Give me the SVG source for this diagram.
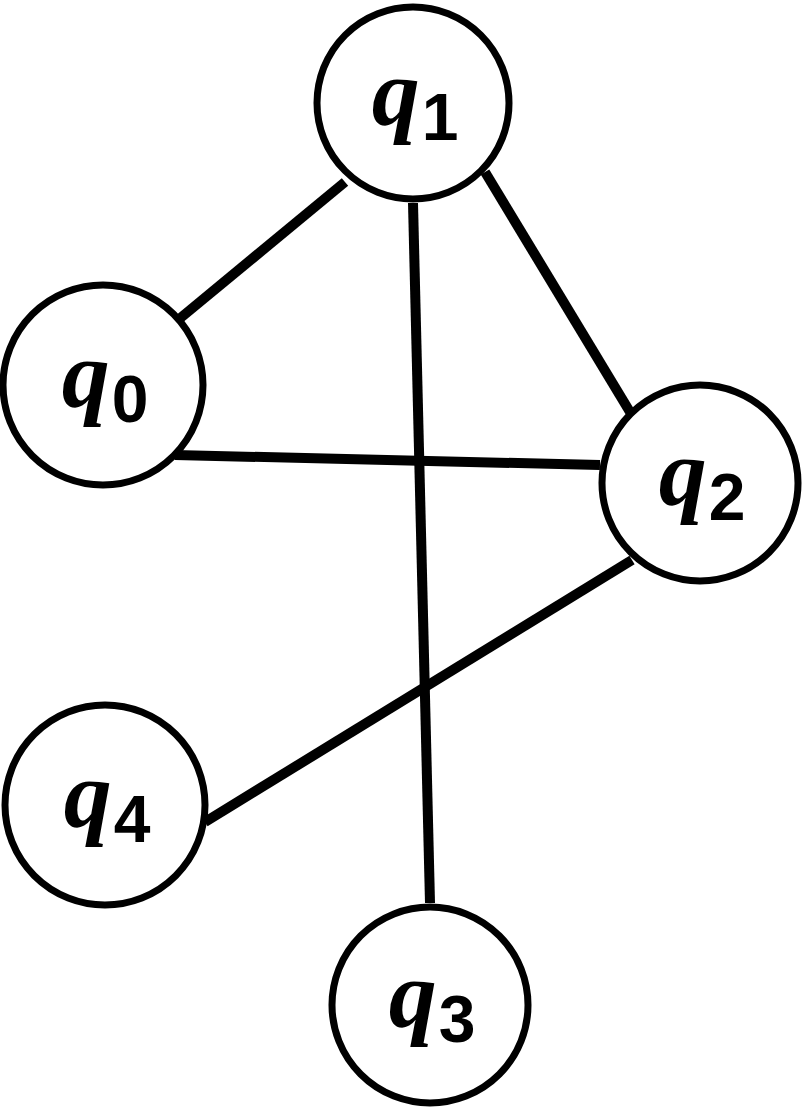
<svg xmlns="http://www.w3.org/2000/svg" width="806" height="1109" viewBox="0 0 806 1109">
<style>
.n{fill:#fff;stroke:#000;stroke-width:7}
.e{stroke:#000;stroke-width:10;stroke-linecap:butt}
.q{font-family:"Liberation Serif",serif;font-weight:bold;font-style:italic;font-size:96px}
.s{font-family:"Liberation Sans",sans-serif;font-weight:bold;font-style:normal;font-size:66px}
</style>
<rect width="806" height="1109" fill="#fff"/>
<g id="connectors">
<line class="e" x1="345" y1="182" x2="178" y2="320"/>
<line class="e" x1="413" y1="203" x2="430" y2="903"/>
<line class="e" x1="485" y1="172" x2="630" y2="412"/>
<line class="e" x1="175" y1="455" x2="600" y2="465"/>
<line class="e" x1="632" y1="560" x2="205" y2="822"/>
</g>
<g id="q1"><circle class="n" cx="413" cy="103" r="96"/><text x="415" y="125" text-anchor="middle"><tspan class="q">q</tspan><tspan class="s" dx="2" dy="15">1</tspan></text></g>
<g id="q0"><circle class="n" cx="103" cy="385" r="100"/><text x="105" y="407" text-anchor="middle"><tspan class="q">q</tspan><tspan class="s" dx="2" dy="15">0</tspan></text></g>
<g id="q2"><circle class="n" cx="700" cy="483" r="98"/><text x="702" y="505" text-anchor="middle"><tspan class="q">q</tspan><tspan class="s" dx="2" dy="15">2</tspan></text></g>
<g id="q4"><circle class="n" cx="105" cy="805" r="100"/><text x="107" y="827" text-anchor="middle"><tspan class="q">q</tspan><tspan class="s" dx="2" dy="15">4</tspan></text></g>
<g id="q3"><circle class="n" cx="430" cy="1005" r="98"/><text x="432" y="1027" text-anchor="middle"><tspan class="q">q</tspan><tspan class="s" dx="2" dy="15">3</tspan></text></g>
</svg>
